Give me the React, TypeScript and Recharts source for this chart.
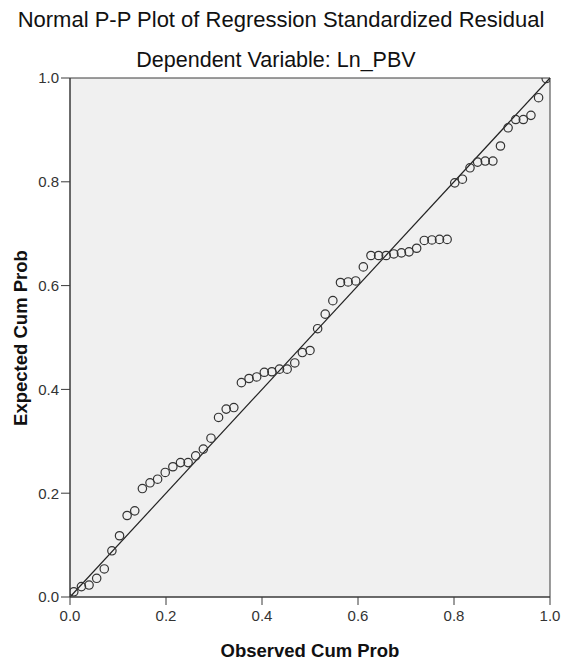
import React from "react";
import {
  ScatterChart,
  Scatter,
  XAxis,
  YAxis,
  CartesianGrid,
  ReferenceLine,
  ReferenceArea,
  Customized,
} from "recharts";

const TITLE = "Normal P-P Plot of Regression Standardized Residual";
const SUBTITLE = "Dependent Variable: Ln_PBV";
const X_LABEL = "Observed Cum Prob";
const Y_LABEL = "Expected Cum Prob";

const X_TICKS = [0, 0.2, 0.4, 0.6, 0.8, 1.0];
const Y_TICKS = [0, 0.2, 0.4, 0.6, 0.8, 1.0];

// Observed cumulative probabilities (x)
const observed = [
  0.0079, 0.0238, 0.0397, 0.0556, 0.0714, 0.0873, 0.1032, 0.119, 0.1349, 0.1508,
  0.1667, 0.1825, 0.1984, 0.2143, 0.2302, 0.246, 0.2619, 0.2778, 0.2937, 0.3095,
  0.3254, 0.3413, 0.3571, 0.373, 0.3889, 0.4048, 0.4206, 0.4365, 0.4524, 0.4683,
  0.4841, 0.5, 0.5159, 0.5317, 0.5476, 0.5635, 0.5794, 0.5952, 0.6111, 0.627,
  0.6429, 0.6587, 0.6746, 0.6905, 0.7063, 0.7222, 0.7381, 0.754, 0.7698, 0.7857,
  0.8016, 0.8175, 0.8333, 0.8492, 0.8651, 0.881, 0.8968, 0.9127, 0.9286, 0.9444,
  0.9603, 0.9762, 0.9921,
];

// Expected cumulative probabilities (y)
const expected = [
  0.010, 0.020, 0.023, 0.036, 0.054, 0.089, 0.118, 0.157, 0.166, 0.209,
  0.220, 0.227, 0.240, 0.251, 0.259, 0.259, 0.272, 0.285, 0.306, 0.346,
  0.362, 0.365, 0.413, 0.421, 0.424, 0.433, 0.434, 0.439, 0.439, 0.451,
  0.471, 0.475, 0.517, 0.545, 0.571, 0.606, 0.607, 0.609, 0.636, 0.658,
  0.658, 0.658, 0.661, 0.663, 0.665, 0.672, 0.687, 0.688, 0.689, 0.689,
  0.798, 0.805, 0.827, 0.838, 0.840, 0.840, 0.869, 0.904, 0.920, 0.920,
  0.928, 0.962, 0.999,
];

const diagonal = [
  { x: 0, y: 0 },
  { x: 1, y: 1 },
];

const points = observed.map((x, i) => ({ x, y: expected[i] }));

const FONT = "'Liberation Sans', Arial, sans-serif";
const AXIS_COLOR = "#3a3a3a";
const fmt = (v: number) => v.toFixed(1);

const OpenCircle = (props: any) => {
  const { cx, cy } = props;
  if (cx == null || cy == null) return null;
  return <circle cx={cx} cy={cy} r={4.2} fill="none" stroke="#333" strokeWidth={1.2} />;
};

const Texts = () => (
  <g fontFamily={FONT}>
    <text x={281} y={27} textAnchor="middle" fontSize={22} fill="#111">
      {TITLE}
    </text>
    <text x={276} y={67} textAnchor="middle" fontSize={21.5} fill="#111">
      {SUBTITLE}
    </text>
    <text x={310} y={657} textAnchor="middle" fontSize={18.5} fontWeight="bold" fill="#111">
      {X_LABEL}
    </text>
    <text
      x={0}
      y={0}
      transform="translate(27,338) rotate(-90)"
      textAnchor="middle"
      fontSize={18.5}
      fontWeight="bold"
      fill="#111"
    >
      {Y_LABEL}
    </text>
  </g>
);

export default function App() {
  return (
    <div style={{ position: "absolute", left: 0, top: 0, width: 561, height: 660, background: "#fff" }}>
      <ScatterChart width={561} height={660} margin={{ top: 78, right: 11, bottom: 0, left: 0 }}>
        <CartesianGrid fill="#f0f0f0" horizontal={false} vertical={false} />
        <XAxis
          type="number"
          dataKey="x"
          domain={[0, 1]}
          ticks={X_TICKS}
          tickFormatter={fmt}
          height={63}
          tickSize={8}
          tickMargin={5}
          tick={{ fill: "#333", fontSize: 15, fontFamily: FONT }}
          axisLine={{ stroke: AXIS_COLOR }}
          tickLine={{ stroke: AXIS_COLOR }}
          allowDataOverflow
        />
        <YAxis
          type="number"
          dataKey="y"
          domain={[0, 1]}
          ticks={Y_TICKS}
          tickFormatter={fmt}
          width={70}
          tickSize={9}
          tickMargin={2}
          tick={{ fill: "#333", fontSize: 15, fontFamily: FONT }}
          axisLine={{ stroke: AXIS_COLOR }}
          tickLine={{ stroke: AXIS_COLOR }}
          allowDataOverflow
        />
        <ReferenceArea x1={0} x2={1} y1={0} y2={1} fill="none" stroke={AXIS_COLOR} strokeWidth={1} />
        <ReferenceLine segment={diagonal} stroke="#222" strokeWidth={1.2} />
        <Scatter data={points} shape={OpenCircle} isAnimationActive={false} />
        <Customized component={Texts} />
      </ScatterChart>
    </div>
  );
}
